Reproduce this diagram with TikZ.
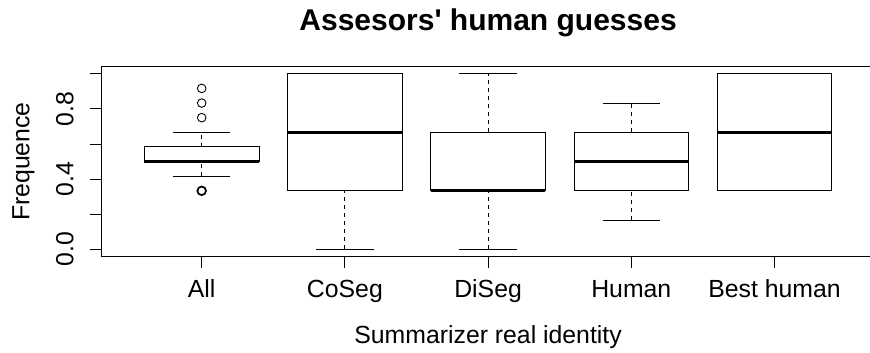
\documentclass[tikz,border=0pt]{standalone}
\usepackage{fontspec}
\setmainfont{Liberation Sans}
\tikzset{
  frameline/.style={line width=0.9pt},
  boxline/.style={draw=black, line width=0.9pt},
  medianline/.style={line width=3pt},
  whisker/.style={line width=0.9pt, dash pattern=on 4pt off 4pt},
  capline/.style={line width=0.9pt},
  outlier/.style={line width=0.9pt},
  axislabel/.style={font=\fontsize{24.8}{28}\selectfont, inner sep=0pt},
}
\begin{document}
\begin{tikzpicture}[x=143.2pt, y=175.5pt]
\useasboundingbox (-0.4085,-0.5909) rectangle (5.6669,1.4205);
\clip (-0.4085,-0.5909) rectangle (5.6669,1.4205);
\draw[frameline] (0.3,-0.04) rectangle (5.7,1.04);
\foreach \v in {0,0.2,0.4,0.6,0.8,1}
  \draw[frameline] (0.3,\v) -- ++(-11pt,0);
\foreach \i in {1,...,5}
  \draw[frameline] (\i,-0.04) -- ++(0,-11.7pt);
\node[axislabel, rotate=90, anchor=base] (y0) at ([xshift=-28pt]0.3,0) {0.0};
\node[axislabel, rotate=90, anchor=base] (y4) at ([xshift=-28pt]0.3,0.4) {0.4};
\node[axislabel, rotate=90, anchor=base] (y8) at ([xshift=-28pt]0.3,0.8) {0.8};
\node[axislabel, anchor=base] (all) at ([yshift=-41pt]1,-0.04) {All};
\node[axislabel, anchor=base] (coseg) at ([yshift=-41pt]2,-0.04) {CoSeg};
\node[axislabel, anchor=base] (diseg) at ([yshift=-41pt]3,-0.04) {DiSeg};
\node[axislabel, anchor=base] (human) at ([yshift=-41pt]4,-0.04) {Human};
\node[axislabel, anchor=base] (best) at ([yshift=-41pt]5,-0.04) {Best human};
\node[axislabel, anchor=base] (xlab) at ([yshift=-87pt]3,-0.04) {Summarizer real identity};
\node[axislabel, rotate=90, anchor=base] (ylab) at ([xshift=-72pt]0.3,0.5) {Frequence};
\node[inner sep=0pt, anchor=base, font=\fontsize{30}{34}\selectfont\bfseries] (title)
  at ([yshift=36pt]3,1.04) {Assesors\textquotesingle\ human guesses};
\foreach \x/\lo/\qa/\md/\qb/\hi in {1/0.4167/0.5/0.5/0.5833/0.6667,
    2/0/0.3333/0.6667/1/1, 3/0/0.3333/0.3333/0.6667/1,
    4/0.1667/0.3333/0.5/0.6667/0.8333, 5/0.3333/0.3333/0.6667/1/1}{
  \draw[whisker] (\x,\lo) -- (\x,\qa);
  \draw[whisker] (\x,\qb) -- (\x,\hi);
  \draw[capline] (\x-0.2,\lo) -- (\x+0.2,\lo);
  \draw[capline] (\x-0.2,\hi) -- (\x+0.2,\hi);
  \draw[boxline] (\x-0.4,\qa) rectangle (\x+0.4,\qb);
  \draw[medianline] (\x-0.4,\md) -- (\x+0.4,\md);
}
\draw[outlier, line width=1.7pt] (1,0.3333) circle[radius=4.3pt];
\foreach \v in {0.75,0.8333,0.9167}
  \draw[outlier] (1,\v) circle[radius=4.3pt];
\end{tikzpicture}
\end{document}
